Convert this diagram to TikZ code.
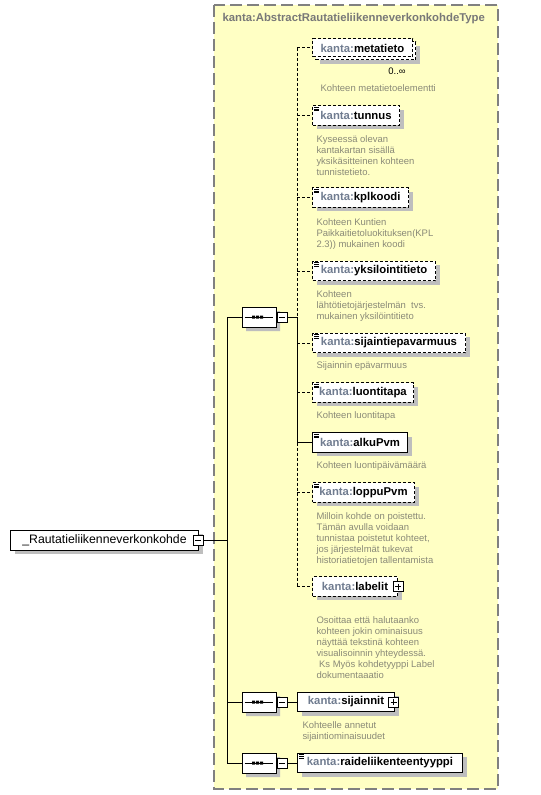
\documentclass[tikz,border=0pt]{standalone}
\usepackage{fontspec}
\setmainfont{Liberation Sans}
\usetikzlibrary{positioning, shapes.misc, shadows}

\definecolor{typefill}{RGB}{255,255,196}
\definecolor{typeborder}{RGB}{128,128,128}
\definecolor{typetext}{RGB}{120,120,120}
\definecolor{nsgray}{RGB}{112,124,144}
\definecolor{docgray}{RGB}{138,138,120}
\definecolor{shadowgray}{RGB}{190,190,190}

\newcommand{\kanta}[1]{\textcolor{nsgray}{kanta:}#1}
\newcommand{\facetmark}[1]{\draw[line width=0.6pt, shift={(#1.north west)}] (2,2) -- (7,2) (2,3.6) -- (7,3.6) (2,5.2) -- (7,5.2);}

\begin{document}
\begin{tikzpicture}[
    x=0.75pt, y=-0.75pt, line width=0.75pt,
    every node/.style={inner sep=0pt},
    boxshadow/.style={drop shadow={shadow xshift=3pt, shadow yshift=-3pt, fill=shadowgray, opacity=1}},
    optline/.style={dash pattern=on 2.25pt off 1.5pt},
    box/.style={rectangle, draw, fill=white, anchor=west, minimum height=14.5pt, font=\fontsize{8.5}{10}\selectfont\bfseries},
    elem/.style={box, minimum width=#1, boxshadow},
    optelem/.style={elem=#1, optline},
    doc/.style={align=left, anchor=north west, xshift=3pt, text=docgray, font=\fontsize{7.1}{8.25}\selectfont},
    seq/.style={chamfered rectangle, chamfered rectangle xsep=3.5pt, chamfered rectangle ysep=3.5pt, draw, fill=white, minimum width=25.5pt, minimum height=15pt, boxshadow,
        path picture={
            \draw ([xshift=2pt]path picture bounding box.west) -- ([xshift=-2pt]path picture bounding box.east);
            \fill[black, shift={(path picture bounding box.center)}] (-7,-1.5) rectangle (-4,1.5) (-3,-1.5) rectangle (0,1.5) (1,-1.5) rectangle (4,1.5);
        }},
    minusbox/.style={rectangle, draw, fill=white, minimum size=7.5pt,
        path picture={\draw ([xshift=1.5pt]path picture bounding box.west) -- ([xshift=-1.5pt]path picture bounding box.east);}},
    plusbox/.style={rectangle, draw, fill=white, minimum size=7.5pt,
        path picture={\draw ([xshift=1.5pt]path picture bounding box.west) -- ([xshift=-1.5pt]path picture bounding box.east);
                      \draw ([yshift=-1.5pt]path picture bounding box.north) -- ([yshift=1.5pt]path picture bounding box.south);}}
]

\fill[white] (0,0) rectangle (541,795);
\useasboundingbox (0,0) rectangle (541,795);

% Type frame
\draw[typeborder, fill=typefill, line width=1.1pt, dash pattern=on 9pt off 3.75pt] (214,5) rectangle (498,789);
\node (typename) [anchor=west, text=typetext, font=\fontsize{8.5}{10}\selectfont\bfseries] at (222,19) {kanta:AbstractRautatieliikenneverkonkohdeType};

% Root element
\node (root) [elem=141pt, minimum height=15pt, font=\fontsize{9.2}{11}\selectfont] at (10,540) {\_Rautatieliikenneverkonkohde};
\node (rootminus) [minusbox] at (198,540) {};

% Sequences
\node (seqA) [seq] at (259,317) {};
\node (seqAminus) [minusbox] at (282,317) {};
\node (seqB) [seq] at (259,702) {};
\node (seqBminus) [minusbox] at (282,702) {};
\node (seqC) [seq] at (259,763) {};
\node (seqCminus) [minusbox] at (282,763) {};

% Elements of the first sequence
\node (metatietoback) [optelem=75pt, minimum height=13.5pt] at (315,51) {};
\node (metatieto) [box, optline, minimum width=75pt, minimum height=13.5pt] at (312,48) {\kanta{metatieto}};
\node (metacard) [font=\fontsize{7.1}{8}\selectfont] at (397,71) {0..∞};
\node (metadoc) [doc, xshift=0pt] at (316,84.5) {Kohteen metatietoelementti};

\node (tunnus) [optelem=65.25pt] at (312,115.5) {\kanta{tunnus}};
\node (tunnusdoc) [below=7pt of tunnus.south west, doc] {Kyseessä olevan\\kantakartan sisällä\\yksikäsitteinen kohteen\\tunnistetieto.};

\node (kplkoodi) [optelem=72pt] at (312,197.5) {\kanta{kplkoodi}};
\node (kplkoodidoc) [below=7.5pt of kplkoodi.south west, doc] {Kohteen Kuntien\\Paikkaitietoluokituksen(KPL\\2.3)) mukainen koodi};

\node (yksilointitieto) [optelem=92.25pt] at (312,271) {\kanta{yksilointitieto}};
\node (yksilointitietodoc) [below=6.5pt of yksilointitieto.south west, doc] {Kohteen\\lähtötietojärjestelmän\ \ tvs.\\mukainen yksilöintitieto};

\node (sijaintiepavarmuus) [optelem=114.75pt] at (312,343) {\kanta{sijaintiepavarmuus}};
\node (sijaintiepavarmuusdoc) [below=6pt of sijaintiepavarmuus.south west, doc] {Sijainnin epävarmuus};

\node (luontitapa) [optelem=75.75pt] at (312,392.5) {\kanta{luontitapa}};
\node (luontitapadoc) [below=6.5pt of luontitapa.south west, doc] {Kohteen luontitapa};

\node (alkuPvm) [elem=71.25pt] at (312,442.5) {\kanta{alkuPvm}};
\node (alkuPvmdoc) [below=6.5pt of alkuPvm.south west, doc] {Kohteen luontipäivämäärä};

\node (loppuPvm) [optelem=76.5pt] at (312,492.5) {\kanta{loppuPvm}};
\node (loppuPvmdoc) [below=7pt of loppuPvm.south west, doc] {Milloin kohde on poistettu.\\Tämän avulla voidaan\\tunnistaa poistetut kohteet,\\jos järjestelmät tukevat\\historiatietojen tallentamista};

\node (labelit) [optelem=63.75pt] at (312,586.5) {\kanta{labelit}};
\node (labelitplus) [plusbox] at (398,586.5) {};
\node (labelitdoc) [below=14.5pt of labelit.south west, doc] {Osoittaa että halutaanko\\kohteen jokin ominaisuus\\näyttää tekstinä kohteen\\visualisoinnin yhteydessä.\\\hspace*{2pt}Ks Myös kohdetyyppi Label\\dokumentaaatio};

% Elements of the other sequences
\node (sijainnit) [elem=72.75pt] at (297,702) {\kanta{sijainnit}};
\node (sijainnitplus) [plusbox] at (393.5,702) {};
\node (sijainnitdoc) [below=7pt of sijainnit.south west, doc, xshift=0.75pt] {Kohteelle annetut\\sijaintiominaisuudet};

\node (raideliikenteentyyppi) [elem=123.75pt] at (297,763) {\kanta{raideliikenteentyyppi}};

\foreach \n in {tunnus, kplkoodi, yksilointitieto, sijaintiepavarmuus, luontitapa, alkuPvm, loppuPvm, raideliikenteentyyppi}
    \facetmark{\n};

% Connectors
\coordinate (trunk) at (227,540);
\coordinate (bus) at (297,317);

\draw (rootminus.east) -- (rootminus.east -| trunk);
\draw (seqA.west -| trunk) -- (seqC.west -| trunk);
\foreach \s in {seqA, seqB, seqC}
    \draw (\s.west -| trunk) -- (\s.west);
\draw (seqAminus.east) -- (bus);
\draw (seqBminus.east) -- (sijainnit.west);
\draw (seqCminus.east) -- (raideliikenteentyyppi.west);

\draw[optline] (metatieto.west -| bus) -- (bus);
\draw (bus) -- (alkuPvm.west -| bus);
\draw[optline] (alkuPvm.west -| bus) -- (labelit.west -| bus);
\foreach \n in {metatieto, tunnus, kplkoodi, yksilointitieto, sijaintiepavarmuus, luontitapa, loppuPvm, labelit}
    \draw[optline] (\n.west -| bus) -- (\n.west);
\draw (alkuPvm.west -| bus) -- (alkuPvm.west);

\end{tikzpicture}
\end{document}
